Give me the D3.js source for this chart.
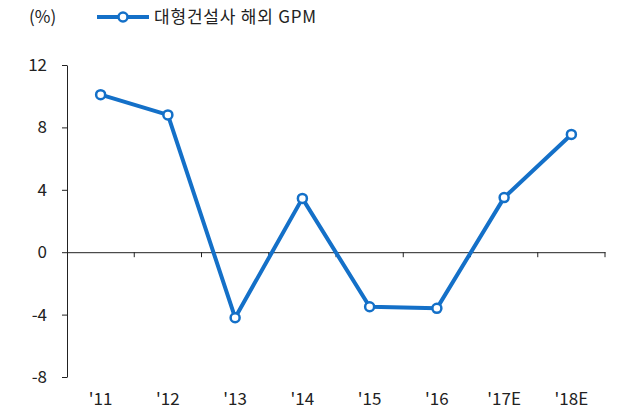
<!DOCTYPE html>
<html>
<head>
<meta charset="utf-8">
<script src="https://cdn.jsdelivr.net/npm/d3@7"></script>
<style>
  body { margin: 0; background: #fff; }
  text { font-family: "Noto Sans CJK KR", "Noto Sans", sans-serif; fill: #222; }
</style>
</head>
<body>
<div id="chart"></div>
<script>
var categories = ["'11", "'12", "'13", "'14", "'15", "'16", "'17E", "'18E"];
var gpm = [10.1, 8.8, -4.2, 3.45, -3.5, -3.6, 3.5, 7.55];
var yTicks = [-8, -4, 0, 4, 8, 12];
var seriesName = "대형건설사 해외 GPM";

var size = { width: 621, height: 413 };
var plot = { left: 67, right: 605, top: 65, bottom: 377 };
var lineColor = "rgb(20,112,200)";

var svg = d3.select("#chart").append("svg")
    .attr("width", size.width)
    .attr("height", size.height);

var x = d3.scaleBand()
    .domain(categories)
    .range([plot.left, plot.right]);

var y = d3.scaleLinear()
    .domain([-8, 12])
    .range([plot.bottom, plot.top]);

// y axis (plain hyphen for negatives, like the original)
var yAxis = svg.append("g")
    .attr("transform", "translate(" + plot.left + ",0)")
    .call(d3.axisLeft(y).tickValues(yTicks).tickFormat(d => String(d))
        .tickSize(5).tickPadding(15).tickSizeOuter(0));
yAxis.select(".domain").attr("stroke", "#222");
yAxis.selectAll(".tick line").attr("stroke", "#222");
yAxis.selectAll("text").style("font-size", "17px").attr("fill", "#222");

// x axis on zero line
var xAxis = svg.append("g")
    .attr("transform", "translate(0," + y(0) + ")")
    .call(d3.axisBottom(x).tickSize(0).tickSizeOuter(0).tickFormat(""));
xAxis.select(".domain").attr("stroke", "#222");

// boundary ticks between categories
svg.append("g").selectAll("line")
    .data(categories)
    .enter().append("line")
    .attr("x1", d => x(d) + x.bandwidth())
    .attr("x2", d => x(d) + x.bandwidth())
    .attr("y1", y(0))
    .attr("y2", y(0) + 5)
    .attr("stroke", "#222");

// category labels at bottom
svg.append("g").selectAll("text")
    .data(categories)
    .enter().append("text")
    .attr("x", d => x(d) + x.bandwidth() / 2)
    .attr("y", 405)
    .attr("text-anchor", "middle")
    .style("font-size", "17px")
    .text(d => d);

// unit label
svg.append("text")
    .attr("x", 29)
    .attr("y", 23)
    .style("font-size", "17px")
    .text("(%)");

// series line
var line = d3.line()
    .x((d, i) => x(categories[i]) + x.bandwidth() / 2)
    .y(d => y(d));

svg.append("path")
    .datum(gpm)
    .attr("d", line)
    .attr("fill", "none")
    .attr("stroke", lineColor)
    .attr("stroke-width", 4)
    .attr("stroke-linejoin", "round");

svg.append("g").selectAll("circle")
    .data(gpm)
    .enter().append("circle")
    .attr("cx", (d, i) => x(categories[i]) + x.bandwidth() / 2)
    .attr("cy", d => y(d))
    .attr("r", 4.5)
    .attr("fill", "#fff")
    .attr("stroke", lineColor)
    .attr("stroke-width", 2.5);

// legend
var legend = svg.append("g");
legend.append("line")
    .attr("x1", 97).attr("x2", 149)
    .attr("y1", 17).attr("y2", 17)
    .attr("stroke", lineColor)
    .attr("stroke-width", 4);
legend.append("circle")
    .attr("cx", 123).attr("cy", 17).attr("r", 4.5)
    .attr("fill", "#fff")
    .attr("stroke", lineColor)
    .attr("stroke-width", 2.5);
legend.append("text")
    .attr("x", 154)
    .attr("y", 23)
    .style("font-size", "17px")
    .style("letter-spacing", "0.8px")
    .text(seriesName);
</script>
</body>
</html>
